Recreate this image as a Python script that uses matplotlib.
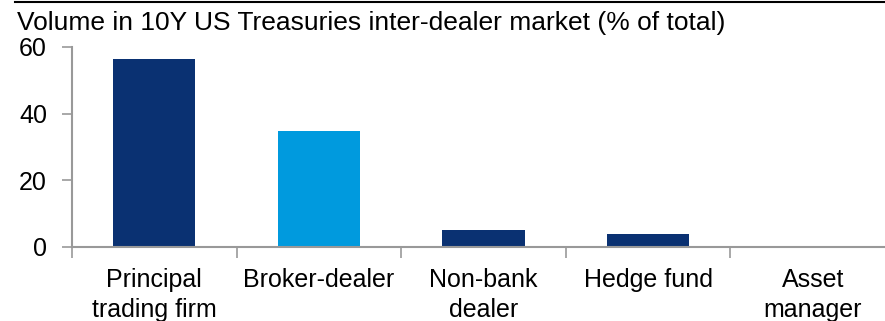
import matplotlib
matplotlib.use("Agg")
import matplotlib.pyplot as plt
from matplotlib.lines import Line2D

categories = ["Principal\ntrading firm", "Broker-dealer", "Non-bank\ndealer", "Hedge fund", "Asset\nmanager"]
values = [56.3, 34.7, 5.0, 3.8, 0.0]
bar_colors = ["#0A3172", "#009ADE", "#0A3172", "#0A3172", "#0A3172"]
yticks = [0, 20, 40, 60]
title = "Volume in 10Y US Treasuries inter-dealer market (% of total)"

plt.rcParams["font.family"] = ["Liberation Sans", "DejaVu Sans"]

W, H = 885, 321
fig = plt.figure(figsize=(W / 100, H / 100), dpi=100)

# plot area: y axis at x=72 px, zero line at y=247 px, 60 at y=47 px
ax = fig.add_axes([72 / W, (H - 247) / H, 823 / W, 200 / H])
x = list(range(len(categories)))
ax.bar(x, values, width=0.5, color=bar_colors, zorder=2)
ax.set_xlim(-0.5, len(categories) - 0.5)
ax.set_ylim(0, 60)

grey = "#999999"
for side in ("top", "right"):
    ax.spines[side].set_visible(False)
for side in ("left", "bottom"):
    ax.spines[side].set_color(grey)
    ax.spines[side].set_linewidth(1.5)

ax.set_yticks(yticks)
ax.set_yticklabels([str(v) for v in yticks], fontsize=18)
ax.tick_params(axis="y", length=7, width=1.2, color=grey, pad=11)

# category labels centred under bars, ticks on category boundaries
ax.set_xticks(x)
ax.set_xticklabels(categories, fontsize=18, linespacing=1.3)
ax.tick_params(axis="x", length=0, pad=15)
ax.set_xticks([i - 0.5 for i in range(len(categories) + 1)], minor=True)
ax.tick_params(axis="x", which="minor", length=8, width=1.2, color=grey)

fig.text(17 / W, (H - 30) / H, title, fontsize=19, ha="left", va="baseline")
fig.add_artist(Line2D([15 / W, 1], [1 - 2 / H, 1 - 2 / H], color="black", linewidth=1.5,
                      transform=fig.transFigure))

fig.savefig("out.png", dpi=100)
